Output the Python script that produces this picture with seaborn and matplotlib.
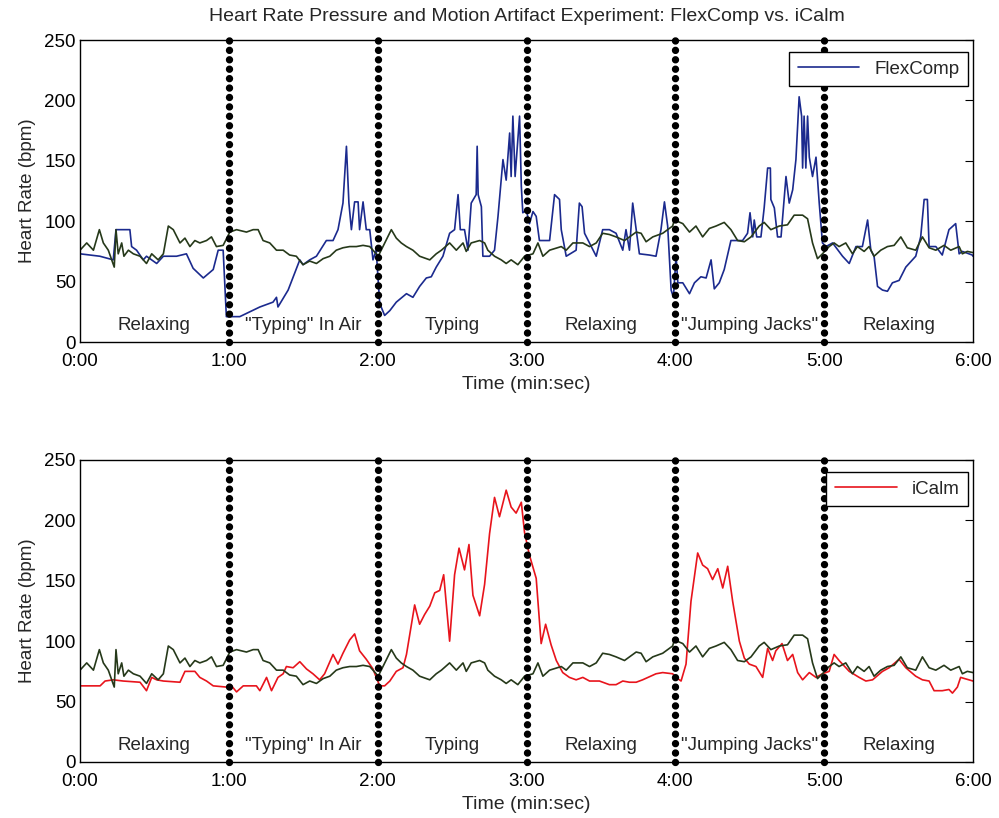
import matplotlib
matplotlib.use("Agg")
import matplotlib.pyplot as plt
import seaborn as sns
import pandas as pd

# FlexComp heart rate (top panel), time in seconds
flex_t = [0, 4, 8, 13.4, 14.5, 16.8, 20.1, 20.8, 22.8, 25.5, 26.8, 30.9, 33.6, 38.9, 42.9,
          45.6, 49.7, 53.7, 55.7, 57.7, 59.0, 64.4, 72.5, 77.8, 79.2, 79.8, 83.9, 88.6,
          89.9, 92.6, 95.3, 99.3, 102.0, 104.0, 106.0, 107.4, 108.4, 109.4, 110.7, 112.1,
          112.7, 114.1, 115.4, 116.8, 118.1, 119.4,
          120.8, 122.8, 124.9, 127.5, 131.6, 134.2, 136.9, 139.6, 141.6, 143.6, 146.3,
          149.0, 151.0, 152.4, 153.3, 155.0, 156.4, 157.7, 159.7, 160.1, 160.5, 161.8,
          162.4, 165.1, 167.1, 168.5, 170.5, 171.8, 173.2, 173.8, 174.5, 175.4, 176.5,
          177.2, 177.9, 178.5, 179.9, 181.2, 182.6, 183.9, 185.2, 189.3, 191.3, 193.3,
          194.0, 196.0, 200.0, 201.3, 202.4, 203.4, 205.4, 208.1, 210.7, 213.4, 216.1,
          218.8, 220.1, 221.5, 222.8, 224.2, 225.5, 229.5, 232.2, 234.2, 235.6, 236.9,
          238.3, 239.2, 240.3, 241.0, 243.0, 245.7, 247.7, 250.3, 252.4, 254.4, 255.7,
          257.7, 259.7, 262.4, 267.1, 269.1, 270.1, 271.2, 271.8, 272.8, 274.5, 275.8,
          277.2, 278.3, 278.5, 279.9, 281.2, 282.6, 284.6, 285.9, 287.3, 288.6, 289.9,
          290.9, 291.3, 291.9, 292.6, 293.3, 294.0, 295.3, 296.7, 298.0, 299.3, 300.7,
          303.4, 307.4, 310.1, 312.8, 315.4, 317.5, 318.8, 320.1, 321.5, 323.5, 325.5,
          327.5, 330.2, 332.9, 336.9, 338.9, 340.3, 341.6, 342.3, 345.0, 347.6, 350.3,
          353.0, 354.4, 355.7, 359.7, 360]
flex_hr = [73, 72, 71, 68, 93, 93, 93, 79, 76, 68, 71, 65, 71, 71, 73,
           61, 53, 60, 76, 76, 21, 21, 29, 33, 37, 29, 43, 68,
           64, 68, 71, 84, 84, 93, 115, 162, 115, 93, 116, 116,
           93, 116, 93, 93, 68, 76,
           32, 22, 26, 33, 40, 37, 46, 53, 54, 62, 71,
           90, 93, 122, 93, 93, 76, 115, 122, 162, 122, 112,
           71, 71, 76, 104, 151, 134, 173, 137, 187, 137, 167,
           187, 129, 107, 109, 98, 108, 104, 84, 84, 122, 118,
           93, 71, 76, 115, 112, 90, 82, 71, 93, 93, 90,
           76, 93, 76, 115, 93, 73, 72, 71, 93, 116, 96,
           43, 37, 71, 49, 49, 40, 49, 54, 53, 68, 44,
           49, 60, 84, 84, 90, 107, 87, 101, 87, 87, 111,
           144, 144, 118, 111, 87, 87, 137, 115, 126, 151, 203,
           187, 144, 187, 144, 187, 153, 137, 153, 115, 82, 79,
           82, 71, 65, 79, 79, 101, 76, 71, 46, 43, 42,
           49, 51, 62, 71, 87, 118, 118, 79, 79, 72, 93,
           98, 73, 75, 72, 71]

# iCalm heart rate (bottom panel)
icalm_t = [0, 8.1, 10.1, 13.4, 17.4, 24.2, 26.8, 28.9, 30.9, 33.6, 40.3, 42.3, 46.3, 48.3,
           51.0, 53.7, 59.0, 61.1, 63.1, 65.8, 71.1, 72.5, 75.2, 77.2, 79.8, 81.9, 83.2,
           85.9, 88.6, 91.3, 93.9, 96.6, 98.6, 102.0, 104.0, 106.0, 108.7, 110.7, 112.7,
           115.4, 118.1, 120.8, 122.8, 124.9, 127.5, 130.2, 131.6, 132.9, 134.9, 136.9,
           138.9, 141.0, 143.0, 145.0, 146.6, 149.0, 151.0, 152.8, 155.0, 156.8, 158.4,
           161.1, 163.1, 165.1, 167.1, 169.1, 171.8, 173.8, 175.8, 177.9, 179.2, 181.2,
           183.9, 185.9, 187.7, 189.9, 192.0, 194.6, 197.3, 200.0, 202.7, 205.4, 209.4,
           213.4, 216.1, 218.8, 221.5, 224.2, 226.8, 232.2, 234.9, 238.9, 240.3, 242.3,
           244.3, 246.3, 249.0, 251.0, 253.0, 255.0, 257.1, 259.1, 261.1, 263.1, 265.8,
           267.8, 269.8, 272.5, 275.2, 277.2, 279.2, 280.5, 283.0, 285.2, 287.3, 289.3,
           291.3, 294.0, 296.7, 299.3, 302.0, 304.0, 306.0, 310.1, 314.1, 316.8, 319.5,
           323.5, 326.2, 330.2, 332.9, 336.9, 339.6, 342.3, 344.3, 347.6, 350.3, 351.7,
           353.7, 355.0, 358.4, 360]
icalm_hr = [63, 63, 67, 68, 67, 66, 59, 70, 68, 67, 66, 75, 75, 70,
            67, 63, 62, 63, 58, 63, 63, 59, 70, 59, 70, 73, 79,
            78, 83, 77, 73, 68, 73, 89, 81, 90, 101, 106, 92,
            85, 77, 63, 63, 67, 75, 78, 89, 105, 130, 114,
            122, 129, 140, 142, 155, 100, 155, 177, 159, 180, 138,
            121, 147, 189, 219, 203, 225, 211, 206, 215, 190, 171,
            152, 98, 114, 97, 84, 74, 70, 68, 70, 67, 67,
            64, 64, 67, 66, 66, 68, 73, 74, 73, 70, 67,
            81, 133, 173, 163, 160, 151, 160, 144, 162, 133, 100,
            86, 81, 79, 70, 94, 84, 92, 98, 84, 89, 74,
            68, 74, 70, 73, 75, 89, 84, 75, 70, 67, 68,
            75, 78, 85, 78, 71, 68, 67, 59, 59, 60, 57,
            62, 70, 68, 67]

# Reference (ECG) heart rate, drawn in both panels
ref_t = [0, 2.7, 5.4, 7.8, 9.4, 11.4, 13.8, 14.5, 15.4, 16.8, 17.7, 19.5, 21.5, 24.2, 26.8,
         28.9, 31.5, 33.6, 35.6, 37.6, 40.3, 42.3, 44.3, 46.3, 48.3, 51.0, 53.0, 55.0,
         57.7, 60.4, 63.1, 67.1, 69.8, 71.8, 73.8, 76.5, 79.2, 81.9, 84.5, 87.2, 89.9,
         92.6, 95.3, 98.0, 100.7, 103.3, 106.0, 108.7, 111.4, 114.1, 116.8, 119.4,
         120.2, 125.5, 127.5, 129.5, 131.6, 134.2, 136.9, 141.0, 143.6, 145.7, 149.0,
         151.7, 154.4, 155.7, 157.7, 161.1, 163.1, 164.4, 167.1, 169.8, 171.8, 173.8,
         176.5, 179.2, 182.6, 184.6, 186.6, 189.3, 194.0, 196.0, 198.7, 202.7, 205.4,
         208.1, 210.7, 213.4, 216.1, 219.5, 224.2, 226.2, 228.2, 230.9, 234.9, 238.9,
         239.6, 243.0, 245.7, 248.3, 251.0, 253.7, 256.4, 259.7, 262.4, 265.1, 267.8,
         270.5, 273.8, 275.8, 278.5, 281.9, 285.2, 287.9, 291.3, 293.3, 295.3, 297.3,
         299.3, 302.0, 304.0, 306.0, 308.7, 311.4, 313.4, 316.1, 318.1, 320.1, 322.8,
         325.5, 328.2, 330.9, 333.5, 336.9, 339.6, 342.3, 345.0, 348.3, 351.0, 354.4,
         355.7, 357.7, 360]
ref_hr = [76, 82, 76, 93, 82, 76, 62, 93, 73, 82, 71, 76, 73, 71, 65,
          73, 68, 73, 96, 93, 82, 86, 79, 84, 82, 84, 87, 79,
          80, 91, 93, 91, 93, 93, 84, 82, 76, 76, 72, 71, 64,
          67, 65, 69, 71, 76, 78, 79, 79, 80, 79, 73,
          71, 93, 86, 82, 79, 76, 71, 68, 73, 76, 82,
          76, 82, 75, 82, 84, 82, 76, 71, 68, 65, 68,
          64, 71, 73, 82, 71, 76, 79, 76, 82, 82, 79,
          82, 90, 89, 87, 84, 91, 90, 83, 87, 90, 96,
          101, 98, 91, 96, 87, 94, 96, 99, 93, 84, 83,
          87, 96, 99, 93, 96, 97, 105, 105, 102, 82, 69,
          73, 79, 82, 79, 82, 73, 79, 75, 79, 71, 76,
          79, 80, 87, 78, 76, 87, 78, 76, 80, 76, 79,
          73, 75, 74]

phase_labels = ['Relaxing', '"Typing" In Air', 'Typing', 'Relaxing', '"Jumping Jacks"', 'Relaxing']
phase_bounds = [60, 120, 180, 240, 300]
x_ticks = [0, 60, 120, 180, 240, 300, 360]
x_tick_labels = ['0:00', '1:00', '2:00', '3:00', '4:00', '5:00', '6:00']
y_ticks = [0, 50, 100, 150, 200, 250]

sns.set_style("white")
plt.rcParams['font.family'] = ['Liberation Sans', 'DejaVu Sans']

flex_df = pd.DataFrame({'t': flex_t, 'hr': flex_hr})
icalm_df = pd.DataFrame({'t': icalm_t, 'hr': icalm_hr})
ref_df = pd.DataFrame({'t': ref_t, 'hr': ref_hr})

fig = plt.figure(figsize=(9.99, 8.18), dpi=100)
ax_top = fig.add_axes([0.0801, 0.5819, 0.8939, 0.3692])
ax_bot = fig.add_axes([0.0801, 0.0685, 0.8939, 0.3692])

panels = [(ax_top, flex_df, '#1b2a8e', 'FlexComp'), (ax_bot, icalm_df, '#e8141c', 'iCalm')]
for ax, df, color, name in panels:
    sns.lineplot(data=df, x='t', y='hr', ax=ax, color=color, lw=1.2, label=name,
                 estimator=None, sort=False, zorder=2)
    sns.lineplot(data=ref_df, x='t', y='hr', ax=ax, color='#26391a', lw=1.2,
                 estimator=None, sort=False, zorder=2, legend=False)

    # phase boundaries drawn as big round dots
    for b in phase_bounds:
        ax.axvline(b, color='black', lw=5.3, linestyle=(0, (0.01, 1.27)),
                   dash_capstyle='round', zorder=4, clip_on=False)

    for i, lab in enumerate(phase_labels):
        ax.text(30 + 60 * i, 14, lab, ha='center', va='center', fontsize=13.5, zorder=3)

    ax.set_xlim(0, 360)
    ax.set_ylim(0, 250)
    ax.set_xticks(x_ticks)
    ax.set_xticklabels(x_tick_labels)
    ax.set_yticks(y_ticks)
    ax.tick_params(axis='y', direction='in', length=6, labelsize=13.5, pad=3,
                   right=True, colors='black')
    ax.tick_params(axis='x', direction='in', length=6, labelsize=13.5, pad=8,
                   top=False, bottom=False, colors='black')
    ax.set_xlabel('Time (min:sec)', fontsize=14, labelpad=4)
    ax.set_ylabel('Heart Rate (bpm)', fontsize=13.5, labelpad=6)
    for s in ax.spines.values():
        s.set_color('black')
        s.set_linewidth(1.0)

    leg = ax.legend(loc='upper right', bbox_to_anchor=(0.9944, 0.960), fontsize=13.5,
                    frameon=True, fancybox=False, framealpha=1, edgecolor='black',
                    handlelength=3.3, borderaxespad=0, borderpad=0.45)
    leg.get_frame().set_linewidth(1.0)

ax_top.set_title('Heart Rate Pressure and Motion Artifact Experiment: FlexComp vs. iCalm',
                 fontsize=14, pad=14)

plt.savefig('out.png', dpi=100)
plt.close()
